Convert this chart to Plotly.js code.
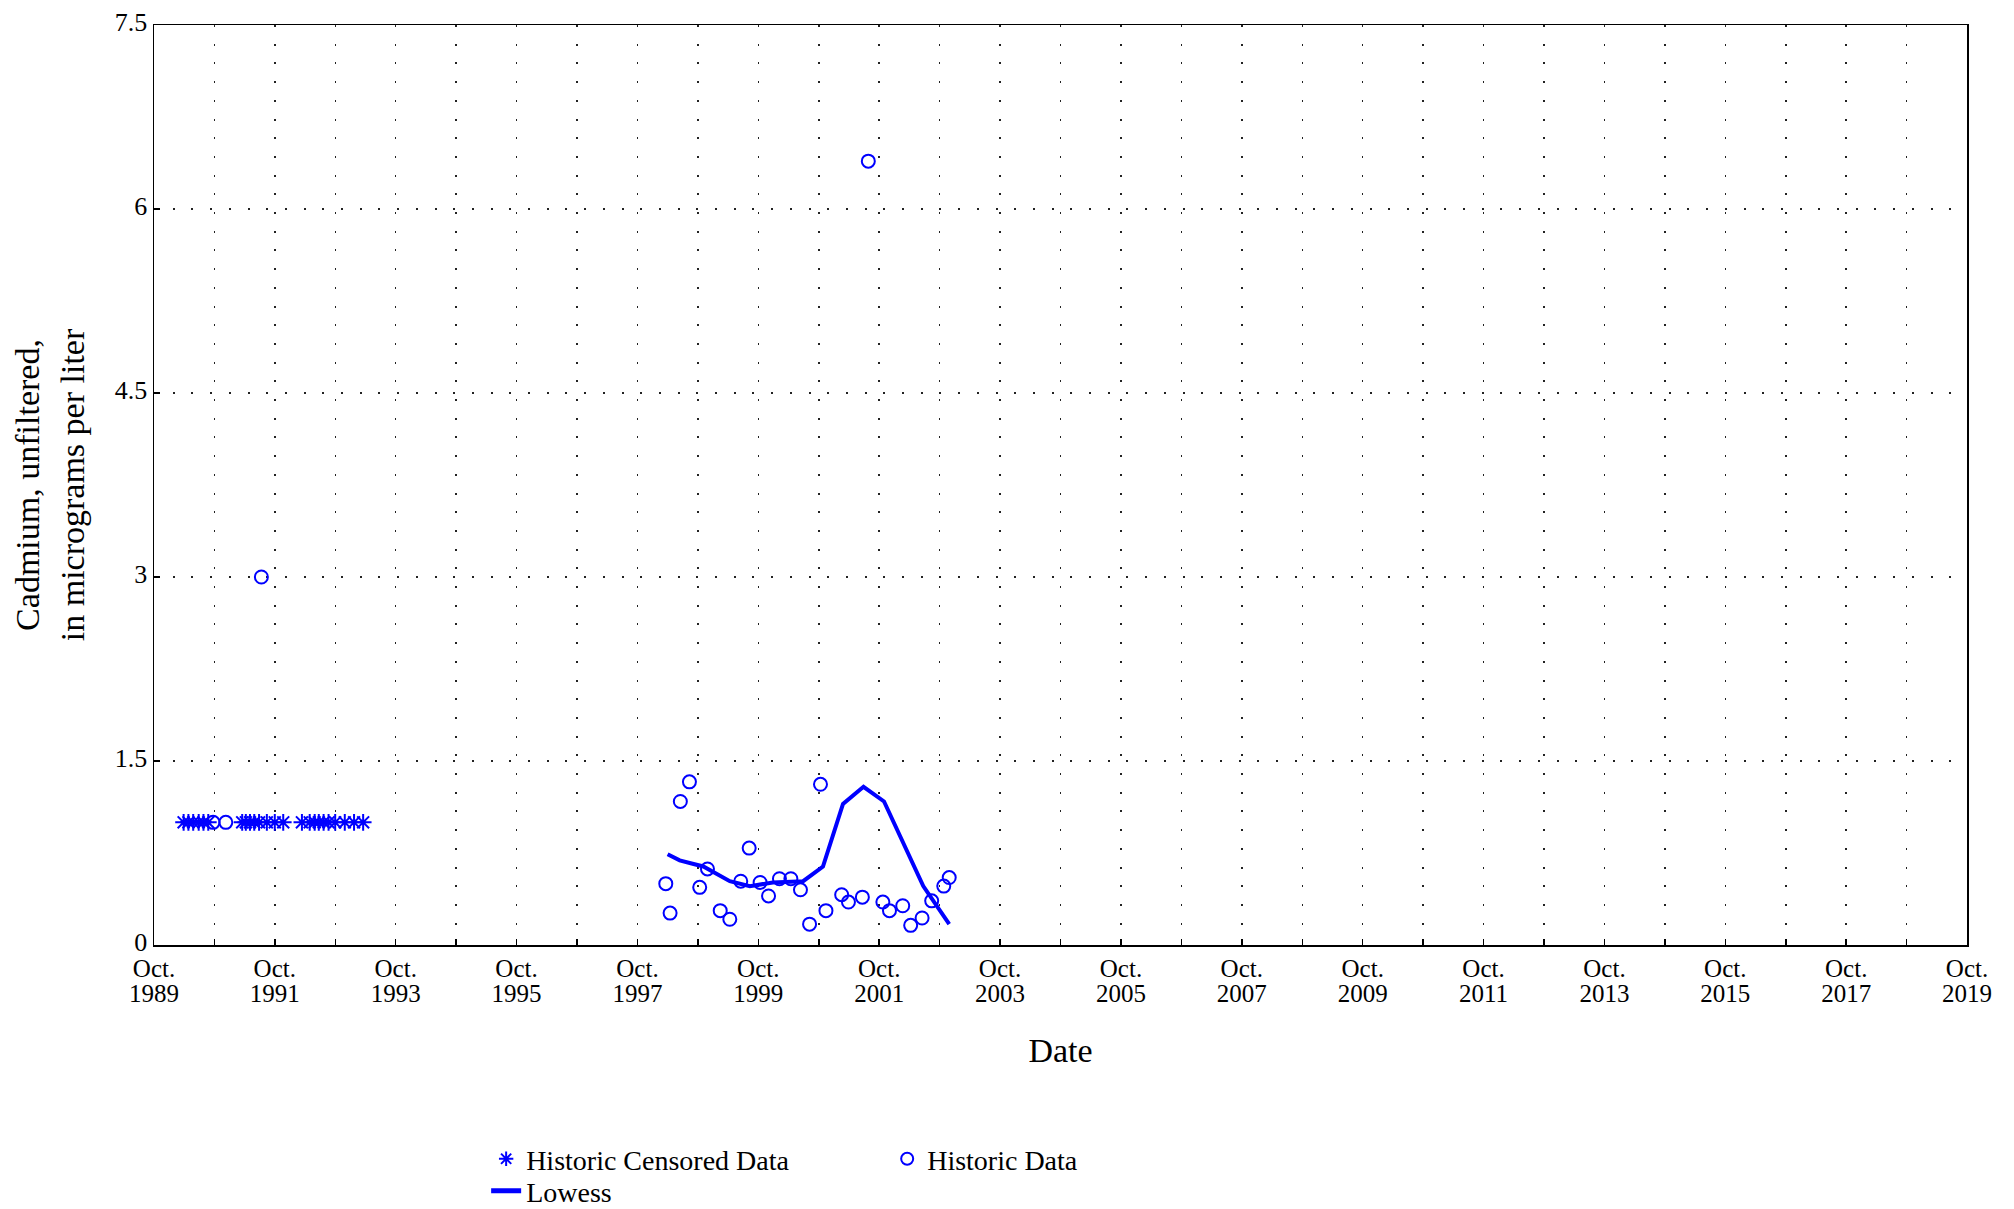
<!DOCTYPE html>
<html>
<head>
<meta charset="utf-8">
<script src="https://cdn.plot.ly/plotly-3.0.1.min.js"></script>
<style>
  html, body { margin: 0; padding: 0; background: #fff; }
  #chart { width: 2014px; height: 1209px; }
</style>
</head>
<body>
<div id="chart"></div>
<script>
// ---- Data ----
const censoredDates = [
  '1990-03-29','1990-04-27','1990-05-26','1990-06-28','1990-07-27','1990-08-25',
  '1991-03-18','1991-04-09','1991-05-04','1991-05-30','1991-06-28','1991-08-14','1991-10-01','1991-11-21',
  '1992-03-13','1992-04-29','1992-05-29','1992-06-23','1992-07-22','1992-08-21','1992-09-30','1992-11-27',
  '1993-01-22','1993-03-18'
];
const censoredValues = [
  1,1,1,1,1,1,
  1,1,1,1,1,1,1,1,
  1,1,1,1,1,1,1,1,
  1,1
];

const historicDates = [
  '1990-09-23','1990-12-09','1991-07-12',
  '1998-03-21','1998-04-16','1998-06-17','1998-08-11','1998-10-12','1998-11-28',
  '1999-02-13','1999-04-12','1999-06-17','1999-08-07','1999-10-12','1999-12-02',
  '2000-02-06','2000-04-15','2000-06-12','2000-08-06','2000-10-11','2000-11-13',
  '2001-02-16','2001-03-29','2001-06-21','2001-07-27','2001-10-23','2001-12-02',
  '2002-02-20','2002-04-09','2002-06-17','2002-08-14','2002-10-26','2002-11-28'
];
const historicValues = [
  1.0, 1.0, 3.0,
  0.50, 0.26, 1.17, 1.33, 0.47, 0.62,
  0.28, 0.21, 0.52, 0.79, 0.51, 0.40,
  0.54, 0.54, 0.45, 0.17, 1.31, 0.28,
  0.41, 0.35, 0.39, 6.39, 0.35, 0.28,
  0.32, 0.16, 0.22, 0.36, 0.48, 0.55
];

const lowessDates = [
  '1998-04-01','1998-06-13','1998-09-05','1998-11-03','1999-04-12','1999-08-11',
  '1999-12-28','2000-06-28','2000-10-26','2001-02-24','2001-06-28','2001-10-30',
  '2002-06-24','2002-11-28'
];
const lowessValues = [
  0.74, 0.69, 0.66, 0.64, 0.52, 0.48,
  0.51, 0.52, 0.64, 1.15, 1.29, 1.17,
  0.48, 0.17
];

// Tick labels: month line and year line (every other October), gridlines every October
const xTickVals = [];
const xMonthText = [];
const xYearText = [];
for (let y = 1989; y <= 2019; y++) {
  xTickVals.push(y + '-10-01');
  const labelled = (y - 1989) % 2 === 0;
  xMonthText.push(labelled ? 'Oct.' : '');
  xYearText.push(labelled ? String(y) : '');
}
const yTickVals = [0, 1.5, 3, 4.5, 6, 7.5];
const yTickText = ['0', '1.5', '3', '4.5', '6', '7.5'];

// ---- Styling ----
const FONT = 'Liberation Serif, Times New Roman, Times, serif';
const BLUE = '#0000FF';

const traces = [
  {
    type: 'scatter', mode: 'markers',
    name: 'Historic Censored Data',
    x: censoredDates, y: censoredValues,
    marker: { symbol: 'asterisk-open', size: 14, color: BLUE, line: { color: BLUE, width: 2 } },
    legend: 'legend'
  },
  {
    type: 'scatter', mode: 'markers',
    name: 'Historic Data',
    x: historicDates, y: historicValues,
    marker: { symbol: 'circle-open', size: 13, color: BLUE, line: { color: BLUE, width: 2 } },
    legend: 'legend2'
  },
  {
    type: 'scatter', mode: 'lines',
    name: 'Lowess',
    x: lowessDates, y: lowessValues,
    line: { color: BLUE, width: 4 },
    legend: 'legend3'
  },
  {
    // empty carrier so the year-label axis is drawn
    type: 'scatter', mode: 'markers', x: [], y: [],
    xaxis: 'x2', yaxis: 'y', showlegend: false, hoverinfo: 'skip'
  }
];

const legendBase = {
  xref: 'paper', yref: 'paper', xanchor: 'left', yanchor: 'top',
  orientation: 'v', bgcolor: 'rgba(0,0,0,0)', borderwidth: 0,
  font: { family: FONT, size: 28, color: '#000' },
  itemsizing: 'constant'
};

const xRange = ['1989-10-01', '2019-10-01'];

const layout = {
  width: 2014, height: 1209,
  paper_bgcolor: '#fff', plot_bgcolor: '#fff',
  font: { family: FONT, color: '#000', size: 25 },
  margin: { l: 154, r: 47, t: 25, b: 264, autoexpand: false },
  showlegend: true,
  xaxis: {
    type: 'date',
    range: xRange,
    tickmode: 'array', tickvals: xTickVals, ticktext: xMonthText,
    tickfont: { family: FONT, size: 25, color: '#000' },
    ticks: 'inside', ticklen: 6, tickwidth: 1.5, tickcolor: '#000',
    showgrid: true, gridcolor: '#222', gridwidth: 1.5, griddash: '2px,16.7px',
    showline: true, linecolor: '#000', linewidth: 1.5, mirror: true,
    zeroline: false,
    title: { text: 'Date', font: { family: FONT, size: 34, color: '#000' }, standoff: 57 },
    automargin: false
  },
  xaxis2: {
    type: 'date',
    overlaying: 'x', anchor: 'y', side: 'bottom',
    range: xRange,
    tickmode: 'array', tickvals: xTickVals, ticktext: xYearText,
    tickfont: { family: FONT, size: 25, color: '#000' },
    ticks: '', ticklabelstandoff: 31,
    showgrid: false, showline: false, zeroline: false,
    automargin: false
  },
  yaxis: {
    range: [0, 7.5],
    tickmode: 'array', tickvals: yTickVals, ticktext: yTickText,
    tickfont: { family: FONT, size: 26, color: '#000' },
    ticklabelshift: -3,
    ticks: 'inside', ticklen: 6, tickwidth: 1.5, tickcolor: '#000',
    showgrid: true, gridcolor: '#222', gridwidth: 1.5, griddash: '2px,16.7px',
    showline: true, linecolor: '#000', linewidth: 1.5, mirror: true,
    zeroline: false,
    title: { text: 'Cadmium, unfiltered,<br>in micrograms per liter', font: { family: FONT, size: 34, color: '#000' }, standoff: 20 },
    automargin: false
  },
  legend: Object.assign({}, legendBase, { x: 0.1832, y: -0.2055 }),
  legend2: Object.assign({}, legendBase, { x: 0.4044, y: -0.2055 }),
  legend3: Object.assign({}, legendBase, { x: 0.1832, y: -0.2403 })
};

Plotly.newPlot('chart', traces, layout, { displayModeBar: false, staticPlot: true });
</script>
</body>
</html>
